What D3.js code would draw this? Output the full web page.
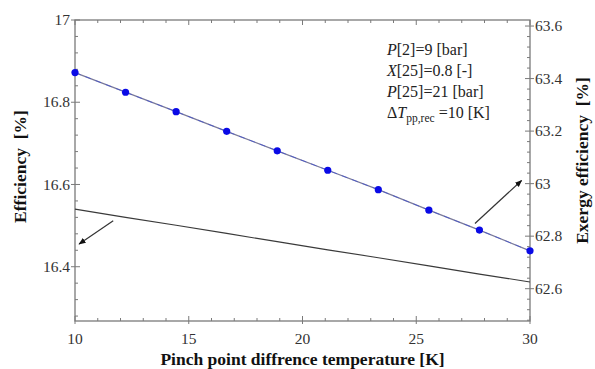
<!DOCTYPE html>
<html><head><meta charset="utf-8">
<script src="https://cdn.jsdelivr.net/npm/d3@7"></script>
<style>body{margin:0;background:#fff;}svg{display:block;} svg text{font-family:"Liberation Serif","DejaVu Serif",serif;}</style>
</head><body>
<svg id="c" width="595" height="369"></svg>
<script>
// Data
const pinchT = [10, 12.222, 14.444, 16.667, 18.889, 21.111, 23.333, 25.556, 27.778, 30];
const exergyEff = [63.423, 63.348, 63.274, 63.199, 63.125, 63.051, 62.977, 62.899, 62.823, 62.744];
const efficiency = [16.540, 16.520, 16.501, 16.481, 16.461, 16.441, 16.422, 16.402, 16.382, 16.363];
const xTicks = [10, 15, 20, 25, 30];
const yLeftTicks = [16.4, 16.6, 16.8, 17];
const yRightTicks = [62.6, 62.8, 63, 63.2, 63.4, 63.6];
const notes = [
  [{t:"P", i:true},{t:"[2]=9 [bar]"}],
  [{t:"X", i:true},{t:"[25]=0.8 [-]"}],
  [{t:"P", i:true},{t:"[25]=21 [bar]"}],
  [{t:"\u0394"},{t:"T", i:true},{t:"pp,rec", sub:true},{t:" =10 [K]", up:true}]
];
// arrows in data coordinates: [x0,y0,x1,y1]
const arrowLeft = [11.68, 16.512, 10.18, 16.455];
const arrowRight = [27.58, 62.848, 29.63, 63.012];

const svg = d3.select("#c");
const L = 75, R = 530, T = 20, B = 321;
const x = d3.scaleLinear().domain([10, 30]).range([L, R]);
const yL = d3.scaleLinear().domain([16.268, 17]).range([B, T]);
const yR = d3.scaleLinear().domain([62.477, 63.623]).range([B, T]);
const axisCol = "#7a7a7a";

svg.append("rect").attr("x", L).attr("y", T).attr("width", R - L).attr("height", B - T)
  .attr("fill", "none").attr("stroke", axisCol).attr("stroke-width", 1.3);

function minorVals(scale, step, majors) {
  const [a, b] = scale.domain();
  const out = [];
  for (let v = Math.ceil(a / step - 1e-9) * step; v <= b + 1e-9; v += step) {
    if (!majors.some(m => Math.abs(m - v) < 1e-6)) out.push(+v.toFixed(4));
  }
  return out;
}
const g = svg.append("g").attr("stroke", axisCol).attr("stroke-width", 1);
const xMinor = minorVals(x, 1, xTicks);
xTicks.forEach(v => {
  g.append("line").attr("x1", x(v)).attr("x2", x(v)).attr("y1", B + 3).attr("y2", B - 5);
  g.append("line").attr("x1", x(v)).attr("x2", x(v)).attr("y1", T).attr("y2", T + 5);
});
xMinor.forEach(v => {
  g.append("line").attr("x1", x(v)).attr("x2", x(v)).attr("y1", B).attr("y2", B - 3);
  g.append("line").attr("x1", x(v)).attr("x2", x(v)).attr("y1", T).attr("y2", T + 3);
});
yLeftTicks.forEach(v => g.append("line").attr("x1", L - 4).attr("x2", L + 5).attr("y1", yL(v)).attr("y2", yL(v)));
minorVals(yL, 0.04, yLeftTicks).forEach(v => g.append("line").attr("x1", L).attr("x2", L + 3).attr("y1", yL(v)).attr("y2", yL(v)));
yRightTicks.forEach(v => g.append("line").attr("x1", R - 5).attr("x2", R + 4).attr("y1", yR(v)).attr("y2", yR(v)));
minorVals(yR, 0.04, yRightTicks).forEach(v => g.append("line").attr("x1", R - 3).attr("x2", R).attr("y1", yR(v)).attr("y2", yR(v)));

const tl = svg.append("g").attr("font-size", 15.5).attr("fill", "#333");
xTicks.forEach(v => tl.append("text").attr("x", x(v)).attr("y", 344).attr("text-anchor", "middle").text(d3.format("d")(v)));
yLeftTicks.forEach(v => tl.append("text").attr("x", L - 5).attr("y", yL(v)).attr("dy", "0.33em").attr("text-anchor", "end").text(v));
yRightTicks.forEach(v => tl.append("text").attr("x", R + 5).attr("y", yR(v)).attr("dy", "0.33em").attr("text-anchor", "start").text(v));

const tt = svg.append("g").attr("font-size", 17.5).attr("font-weight", "bold").attr("fill", "#111");
tt.append("text").attr("x", (L + R) / 2).attr("y", 365).attr("text-anchor", "middle").text("Pinch point diffrence temperature [K]");
tt.append("text").attr("transform", `translate(26,${(T + B) / 2 - 4}) rotate(-90)`).attr("text-anchor", "middle").attr("xml:space", "preserve").text("Efficiency  [%]");
tt.append("text").attr("transform", `translate(588,${(T + B) / 2 - 10}) rotate(-90)`).attr("text-anchor", "middle").attr("xml:space", "preserve").text("Exergy efficiency  [%]");

svg.append("path").datum(pinchT.map((d, i) => [d, efficiency[i]]))
  .attr("d", d3.line().x(d => x(d[0])).y(d => yL(d[1])))
  .attr("fill", "none").attr("stroke", "#3a3a3a").attr("stroke-width", 1.1);

const exData = pinchT.map((d, i) => [d, exergyEff[i]]);
svg.append("path").datum(exData)
  .attr("d", d3.line().x(d => x(d[0])).y(d => yR(d[1])))
  .attr("fill", "none").attr("stroke", "#7a7a9a").attr("stroke-width", 1.3);
svg.append("path").datum(exData)
  .attr("d", d3.line().x(d => x(d[0])).y(d => yR(d[1])))
  .attr("fill", "none").attr("stroke", "#3344dd").attr("stroke-width", 0.8).attr("stroke-dasharray", "6,5").attr("opacity", 0.75);
svg.append("g").selectAll("circle").data(exData).join("circle")
  .attr("cx", d => x(d[0])).attr("cy", d => yR(d[1])).attr("r", 3.6).attr("fill", "#0a0ae6");

const defs = svg.append("defs");
defs.append("marker").attr("id", "ah").attr("viewBox", "0 0 10 10").attr("refX", 9).attr("refY", 5)
  .attr("markerWidth", 6).attr("markerHeight", 6).attr("orient", "auto")
  .append("path").attr("d", "M0,1 L10,5 L0,9 Z").attr("fill", "#111");
svg.append("line").attr("x1", x(arrowLeft[0])).attr("y1", yL(arrowLeft[1])).attr("x2", x(arrowLeft[2])).attr("y2", yL(arrowLeft[3]))
  .attr("stroke", "#333").attr("stroke-width", 1.2).attr("marker-end", "url(#ah)");
svg.append("line").attr("x1", x(arrowRight[0])).attr("y1", yR(arrowRight[1])).attr("x2", x(arrowRight[2])).attr("y2", yR(arrowRight[3]))
  .attr("stroke", "#333").attr("stroke-width", 1.2).attr("marker-end", "url(#ah)");

const nt = svg.append("g").attr("font-size", 16).attr("fill", "#222");
const noteY = [55, 76, 97, 118];
notes.forEach((parts, k) => {
  const t = nt.append("text").attr("x", 387).attr("y", noteY[k]).attr("xml:space", "preserve");
  parts.forEach(p => {
    const s = t.append("tspan").text(p.t);
    if (p.i) s.attr("font-style", "italic");
    if (p.sub) s.attr("font-size", 11.5).attr("dy", 4);
    if (p.up) s.attr("dy", -4);
  });
});
</script>
</body></html>
